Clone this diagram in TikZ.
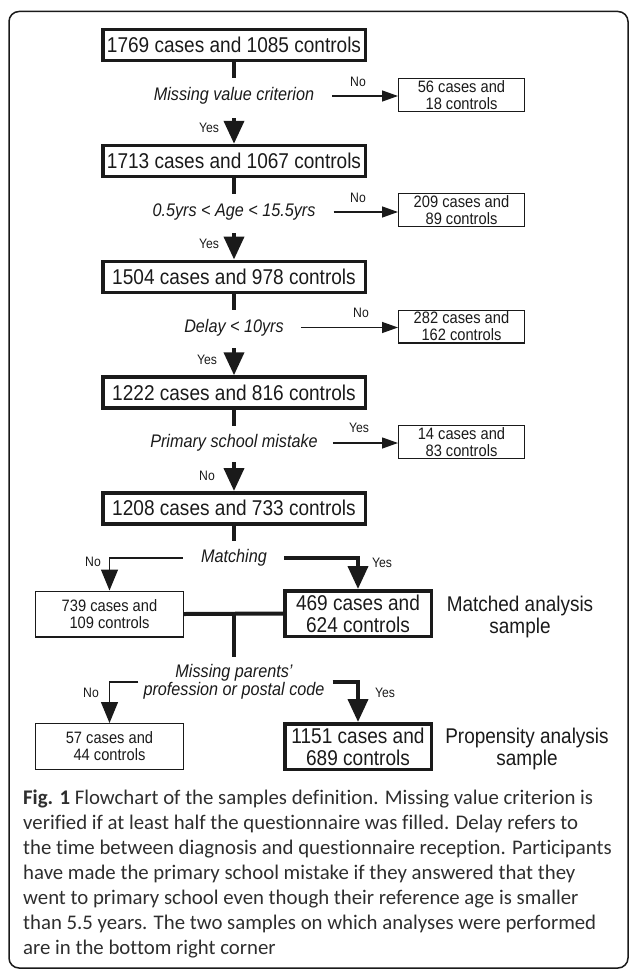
\documentclass[tikz,border=0pt]{standalone}
\usepackage{fontspec}
\setmainfont{Liberation Sans}[FakeStretch=0.89]
\newfontfamily\capfont{Carlito}[Ligatures=NoCommon]
\usetikzlibrary{arrows.meta}
\definecolor{ink}{HTML}{1A1A1A}
\definecolor{captext}{HTML}{2E2E2E}
\begin{document}
\begin{tikzpicture}[x=1pt,y=-1pt,
  bigbox/.style={draw=ink, line width=3.5pt, minimum width=262.5pt, minimum height=31pt, inner sep=0pt, text=ink, font=\fontsize{21.4}{23}\selectfont},
  resbox/.style={draw=ink, line width=3.5pt, minimum width=146.5pt, minimum height=45.5pt, inner sep=0pt, align=center, text=ink, font=\fontsize{21.4}{22}\selectfont},
  sidebox/.style={draw=ink, line width=1.3pt, minimum width=125.7pt, minimum height=32.7pt, inner sep=0pt, align=center, text=ink, font=\fontsize{16.5}{17}\selectfont},
  lowbox/.style={draw=ink, line width=1.3pt, minimum width=147.7pt, minimum height=45.7pt, inner sep=0pt, align=center, text=ink, font=\fontsize{16.5}{17}\selectfont},
  crit/.style={inner sep=0pt, align=center, text=ink, font=\fontsize{18.2}{18}\selectfont\itshape},
  yn/.style={inner sep=0pt, text=ink, font=\fontsize{13.7}{14}\selectfont},
  side/.style={inner sep=0pt, align=center, text=ink, font=\fontsize{21.3}{22}\selectfont},
  stem/.style={draw=ink, line width=4pt},
  bigarrow/.style={draw=ink, line width=4pt, -{Triangle[length=23pt,width=20pt]}},
  thinbig/.style={draw=ink, line width=1.3pt, -{Triangle[length=21pt,width=17pt]}},
  thinarrow/.style={draw=ink, line width=1.3pt, -{Triangle[length=16pt,width=11pt]}},
  capline/.style={inner sep=0pt, anchor=base west, text=captext, font=\capfont\fontsize{20.8}{25}\selectfont}
]
\useasboundingbox (0,0) rectangle (629,974);
\draw[draw=ink, line width=1.5pt, rounded corners=10pt] (9,11.5) rectangle (628,968);

% main column
\node[bigbox] (b0) at (234,45.25) {1769 cases and 1085 controls};
\node[bigbox] (b1) at (234,161) {1713 cases and 1067 controls};
\node[bigbox] (b2) at (234,276.75) {1504 cases and 978 controls};
\node[bigbox] (b3) at (234,392.5) {1222 cases and 816 controls};
\node[bigbox] (b4) at (234,508.25) {1208 cases and 733 controls};

% criteria
\node[crit] (c0) at (234,96) {Missing value criterion};
\node[crit] (c1) at (234,212) {0.5yrs < Age < 15.5yrs};
\node[crit] (c2) at (234,327.5) {Delay < 10yrs};
\node[crit] (c3) at (234,443) {Primary school mistake};
\node[crit] (c4) at (234,558) {Matching};
\node[crit] (c5) at (234,682) {Missing parents'\\profession or postal code};

% side boxes
\node[sidebox] (s0) at (461.5,95) {56 cases and\\18 controls};
\node[sidebox] (s1) at (461.5,210) {209 cases and\\89 controls};
\node[sidebox] (s2) at (461.5,326.5) {282 cases and\\162 controls};
\node[sidebox] (s3) at (461.5,442) {14 cases and\\83 controls};

% stems and down arrows
\coordinate (t0) at (234,78);
\coordinate (t1) at (234,194);
\coordinate (t2) at (234,310);
\coordinate (t3) at (234,425.5);
\coordinate (t4) at (234,541);
\coordinate (a0) at (234,118);
\coordinate (a1) at (234,233);
\coordinate (a2) at (234,348);
\coordinate (a3) at (234,462);
\draw[stem] (b0.south) -- (t0);
\draw[stem] (b1.south) -- (t1);
\draw[stem] (b2.south) -- (t2);
\draw[stem] (b3.south) -- (t3);
\draw[stem] (b4.south) -- (t4);
\draw[bigarrow] (a0) -- (b1.north);
\draw[bigarrow] (a1) -- (b2.north);
\draw[bigarrow] (a2) -- (b3.north);
\draw[bigarrow] (a3) -- (b4.north);

% side arrows
\draw[thinarrow] ([xshift=18pt]c0.east) -- (s0.west |- c0.east);
\draw[thinarrow] ([xshift=18pt]c1.east) -- (s1.west |- c1.east);
\draw[thinarrow] ([xshift=17pt]c2.east) -- (s2.west |- c2.east);
\draw[thinarrow] ([xshift=15pt]c3.east) -- (s3.west |- c3.east);

\node[yn] (n0) at (358,82) {No};
\node[yn] (n1) at (358,198) {No};
\node[yn] (n2) at (361,313) {No};
\node[yn] (n3) at (359,428) {Yes};
\node[yn] (y0) at (209,128) {Yes};
\node[yn] (y1) at (209,244) {Yes};
\node[yn] (y2) at (207,360) {Yes};
\node[yn] (y3) at (207,476) {No};

% bottom part
\node[lowbox] (l1) at (109.5,614) {739 cases and\\109 controls};
\node[resbox] (r1) at (358,613.5) {469 cases and\\624 controls};
\node[lowbox] (l2) at (109.5,746.5) {57 cases and\\44 controls};
\node[resbox] (r2) at (358,746.5) {1151 cases and\\689 controls};
\node[side] (m1) at (520,617) {Matched analysis\\sample};
\node[side] (m2) at (527,749) {Propensity analysis\\sample};

\draw[thinbig] ([xshift=-18pt]c4.west) -| (l1.north);
\draw[bigarrow] ([xshift=17pt]c4.east) -| (r1.north);
\node[yn] (n4) at (93,562) {No};
\node[yn] (y4) at (382,563) {Yes};

\draw[stem] (l1.east) -- (r1.west);
\coordinate (tj) at (234,613.5);
\coordinate (tk) at (234,657);
\draw[stem] (tj) -- (tk);

\draw[thinbig] ([xshift=-5pt]c5.west) -| (l2.north);
\draw[bigarrow] ([xshift=8pt]c5.east) -| (r2.north);
\node[yn] (n5) at (91,693) {No};
\node[yn] (y5) at (385,693) {Yes};

% caption
\node[capline] (cap1) at (23,804) {\textbf{Fig. 1} Flowchart of the samples definition. Missing value criterion is};
\node[capline] (cap2) at (23,829) {verified if at least half the questionnaire was filled. Delay refers to};
\node[capline] (cap3) at (23,854) {the time between diagnosis and questionnaire reception. Participants};
\node[capline] (cap4) at (23,879) {have made the primary school mistake if they answered that they};
\node[capline] (cap5) at (23,904) {went to primary school even though their reference age is smaller};
\node[capline] (cap6) at (23,929) {than 5.5 years. The two samples on which analyses were performed};
\node[capline] (cap7) at (23,954) {are in the bottom right corner};
\end{tikzpicture}
\end{document}
